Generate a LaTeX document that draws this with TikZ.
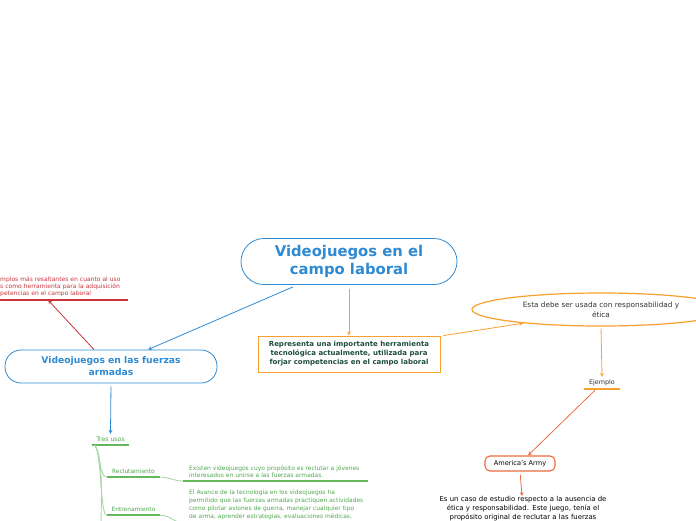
\documentclass[tikz,border=0pt]{standalone}
\usepackage{fontspec}
\setmainfont{DejaVu Sans}
\usetikzlibrary{positioning,shapes.geometric}
\definecolor{azul}{HTML}{2E8AD2}
\definecolor{rojo}{HTML}{C8343A}
\definecolor{naranja}{HTML}{F7A02E}
\definecolor{coral}{HTML}{EE6A3C}
\definecolor{verde}{HTML}{4EA64E}
\definecolor{verdelinea}{HTML}{62B85A}
\definecolor{verdeclaro}{HTML}{A8D8A8}
\definecolor{oscuro}{HTML}{1E4D3A}
\tikzset{
  tema/.style={draw=azul,text=azul,align=center,font=\bfseries},
  rama/.style={inner xsep=0pt,inner ysep=2pt,align=center,text=verde},
  subrayado/.style={draw=#1,line width=1.5pt,line cap=butt},
  flecha/.style={->,line width=0.8pt},
}
\begin{document}
\begin{tikzpicture}[x=1pt,y=-1pt,>=stealth]
\useasboundingbox (0,0) rectangle (696,520);
\node[tema,line width=0.8pt,rounded corners=23pt,minimum width=216pt,minimum height=46pt,font=\fontsize{14.8}{18}\selectfont\bfseries](a) at (349,261.5){Videojuegos en el\\campo laboral};
\node[tema,line width=0.8pt,rounded corners=16pt,minimum width=212pt,minimum height=33pt,font=\fontsize{9.2}{12}\selectfont\bfseries](b) at (111,366.5){Videojuegos en las fuerzas\\armadas};
\node[anchor=south west,inner xsep=0pt,inner ysep=3pt,text width=128pt,align=left,text=rojo,font=\fontsize{6}{7}\selectfont](c) at (0,300){mplos más resaltantes en cuanto al uso\\s como herramienta para la adquisición\\petencias en el campo laboral};
\node[draw=naranja,line width=0.8pt,minimum width=182pt,minimum height=36pt,align=center,text=oscuro,font=\fontsize{7}{9}\selectfont\bfseries](d) at (349,354){Representa una importante herramienta\\tecnológica actualmente, utilizada para\\forjar competencias en el campo laboral};
\node[draw=naranja,line width=1.2pt,ellipse,minimum width=258pt,minimum height=33pt,align=center,text=black!80,font=\fontsize{7.3}{10}\selectfont](e) at (601,309.5){Esta debe ser usada con responsabilidad y\\ética};
\node[rama,minimum width=35pt,minimum height=12pt,text=black!80,font=\fontsize{6.4}{8}\selectfont](f) at (602,383){Ejemplo};
\node[draw=coral,line width=1.1pt,rounded corners=5pt,minimum width=70pt,minimum height=15pt,font=\fontsize{6.6}{8}\selectfont](g) at (520,463.5){America's Army};
\node[anchor=north,text width=190pt,align=center,inner sep=0pt,font=\fontsize{6.9}{9}\selectfont](h) at (523,496){Es un caso de estudio respecto a la ausencia de\\ética y responsabilidad. Este juego, tenía el\\propósito original de reclutar a las fuerzas};
\node[rama,minimum width=37pt,minimum height=11pt,font=\fontsize{6.2}{7}\selectfont](i) at (110.5,439.5){Tres usos};
\node[rama,minimum width=53pt,minimum height=11pt,font=\fontsize{5.9}{7}\selectfont](j) at (133.5,471.5){Reclutamiento};
\node[rama,minimum width=53pt,minimum height=11pt,font=\fontsize{5.9}{7}\selectfont](k) at (133.5,509.5){Entrenamiento};
\node[anchor=south west,inner xsep=6pt,inner ysep=3pt,text width=173pt,align=left,text=verde,font=\fontsize{5.95}{7}\selectfont](l) at (183,481){Existen videojuegos cuyo propósito es reclutar a jóvenes\\interesados en unirse a las fuerzas armadas.};
\node[anchor=north west,inner xsep=6pt,inner ysep=3pt,text width=200pt,align=left,text=verde,font=\fontsize{5.95}{8}\selectfont](m) at (183,487){El Avance de la tecnología en los videojuegos ha\\permitido que las fuerzas armadas practiquen actividades\\como pilotar aviones de guerra, manejar cualquier tipo\\de arma, aprender estrategias, evaluaciones médicas,};
\coordinate (n) at (101,530);
% subrayados
\draw[subrayado=rojo] (c.south west) -- ([xshift=128pt]c.south west);
\draw[subrayado=naranja] (f.south west) -- (f.south east);
\draw[subrayado=verdelinea] (i.south west) -- (i.south east);
\draw[subrayado=verdelinea] (j.south west) -- (j.south east);
\draw[subrayado=verdelinea] (k.south west) -- (k.south east);
\draw[subrayado=verdelinea] (l.south west) -- ([xshift=185pt]l.south west);
% conectores
\draw[flecha,azul] ([xshift=-56pt,yshift=-2pt]a.south) -- ([xshift=37pt]b.north);
\draw[flecha,naranja,shorten <=4pt] (a.south) -- (d.north);
\draw[flecha,rojo] ([xshift=-17pt]b.north) -- ([xshift=48pt]c.south west);
\draw[flecha,naranja] ([xshift=3pt]d.north east) -- (e.190);
\draw[flecha,naranja,shorten <=2pt] (e.south) -- (f.north);
\draw[flecha,coral] ([xshift=-7pt,yshift=-1pt]f.south) -- ([xshift=8pt]g.north);
\draw[flecha,coral,shorten <=3pt] (g.south) -- ([xshift=-1pt]h.north);
\draw[flecha,azul,shorten <=3pt] (b.south) -- (i.north);
\draw[verdeclaro,line width=0.9pt] ([xshift=3pt]i.south west) .. controls (100,450) and (99,477) .. (j.south west);
\draw[verdeclaro,line width=0.9pt] ([xshift=3pt]i.south west) .. controls (102,456) and (100,515) .. (k.south west);
\draw[verdeclaro,line width=0.9pt] ([xshift=3pt]i.south west) .. controls (104,460) and (101,500) .. (n);
\draw[verdeclaro,line width=0.9pt] (j.south east) .. controls (170,477) and (173,481) .. (l.south west);
\draw[verdeclaro,line width=0.9pt] (k.south east) .. controls (170,515) and (175,523) .. ([yshift=-36pt]m.north west);
\end{tikzpicture}
\end{document}
